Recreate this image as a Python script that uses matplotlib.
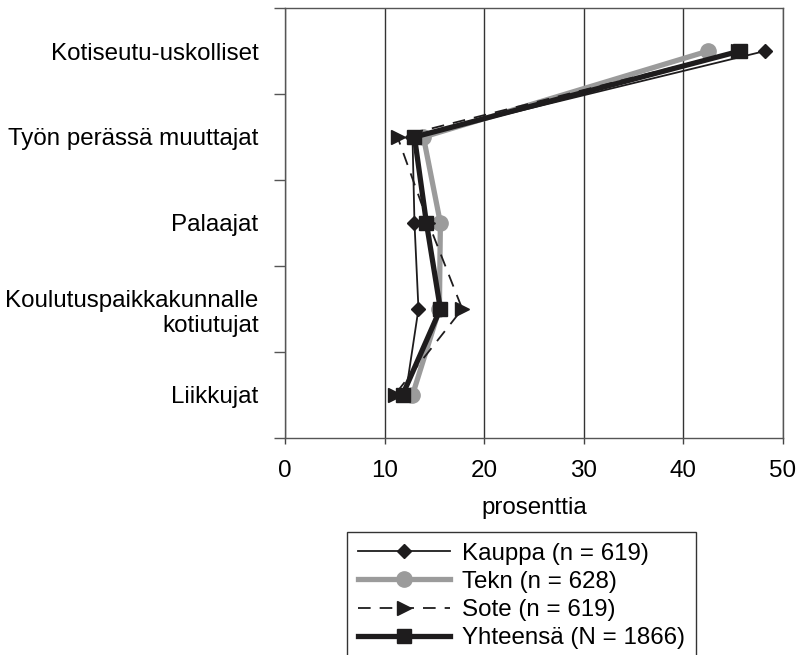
import numpy as np
import matplotlib
matplotlib.use("Agg")
from matplotlib import pyplot as plt

plt.rcParams['font.family'] = ['Liberation Sans', 'DejaVu Sans']

# categories top -> bottom
categories = ["Kotiseutu-uskolliset", "Työn perässä muuttajat", "Palaajat",
              "Koulutuspaikkakunnalle\nkotiutujat", "Liikkujat"]

kauppa    = [48.2, 12.8, 13.0, 13.4, 12.1]
tekn      = [42.5, 13.9, 15.6, 15.5, 12.8]
sote      = [45.5, 11.3, 14.4, 17.8, 11.0]
yhteensa  = [45.7, 13.0, 14.2, 15.6, 11.8]

labels = ["Kauppa (n = 619)", "Tekn (n = 628)", "Sote (n = 619)", "Yhteensä (N = 1866)"]

BLACK = '#1e1c1d'
GRAY  = '#9b9b9b'
FS = 17.4

fig = plt.figure(figsize=(8, 6.55), dpi=100)
ax = fig.add_axes([285/800, 1 - 438/655, (783 - 285)/800, (438 - 8)/655])

y = np.arange(len(categories))

ax.plot(kauppa, y, color=BLACK, lw=1.3, marker='D', ms=7.5, zorder=3, label=labels[0])
ax.plot(tekn, y, color=GRAY, lw=3.8, marker='o', ms=11, zorder=4, label=labels[1])
ax.plot(sote, y, color=BLACK, lw=1.3, ls=(0, (7, 5)), marker='>', ms=10, zorder=5, label=labels[2])
ax.plot(yhteensa, y, color=BLACK, lw=3.8, marker='s', ms=9.5, zorder=6, label=labels[3])

ax.set_xlim(0, 50)
ax.set_ylim(len(categories) - 0.5, -0.5)

ax.set_xticks(np.arange(0, 51, 10))
ax.tick_params(axis='x', direction='out', length=4, width=1, color='#444444',
               labelsize=FS, pad=11.5)
ax.xaxis.grid(True, color='#333333', lw=1)
ax.set_axisbelow(True)

# category labels at centres, tick marks at the boundaries
ax.set_yticks(np.arange(-0.5, len(categories), 1.0))
ax.set_yticklabels([])
ax.tick_params(axis='y', which='major', direction='out', length=8, width=1, color='#555555')
ax.set_yticks(y, minor=True)
ax.set_yticklabels(categories, minor=True, fontsize=FS, ha='right')
ax.tick_params(axis='y', which='minor', length=0, pad=19)

for s in ax.spines.values():
    s.set_color('#555555')
    s.set_linewidth(1)

ax.set_xlabel("prosenttia", fontsize=FS, labelpad=11)

leg = fig.legend(loc='upper left', bbox_to_anchor=(347/800, 1 - 532/655),
                 fontsize=FS, frameon=True, fancybox=False, edgecolor='black',
                 handlelength=3.8, handletextpad=0.5, labelspacing=0.25,
                 borderpad=0.45, borderaxespad=0)
leg.get_frame().set_linewidth(1)

fig.savefig("out.png", dpi=100)
